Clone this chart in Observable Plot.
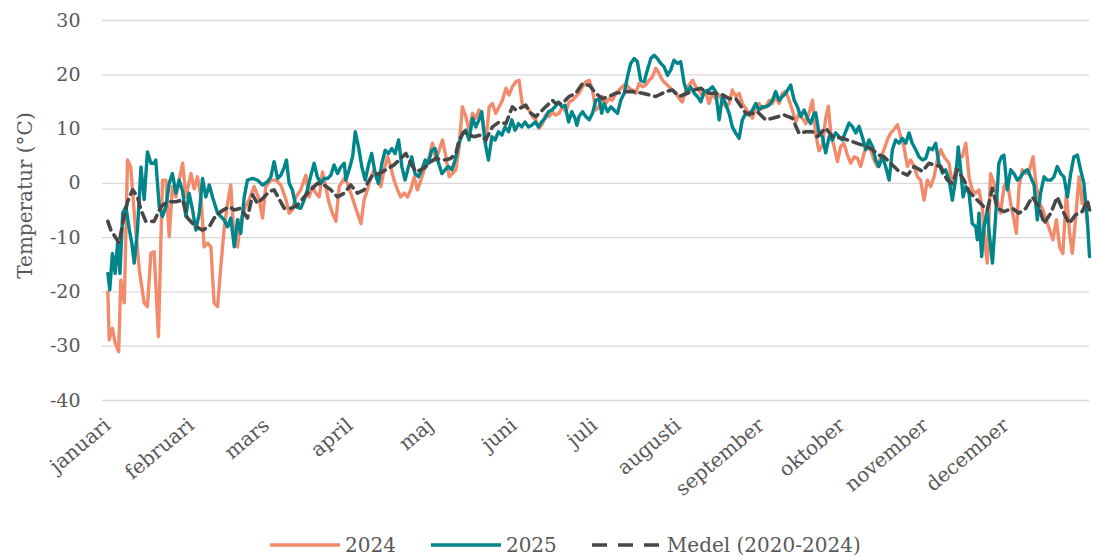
<!DOCTYPE html>
<html>
<head>
<meta charset="utf-8">
<script src="https://cdn.jsdelivr.net/npm/d3@7"></script>
<script src="https://cdn.jsdelivr.net/npm/@observablehq/plot@0.6"></script>
<style>
  html, body { margin: 0; padding: 0; background: #fff; }
  #wrap { width: 1096px; height: 558px; position: relative; font-family: "DejaVu Serif", serif; }
  #legend { position: absolute; left: 0; top: 518px; width: 1096px; height: 40px; display: flex; align-items: center; padding-left: 270px; box-sizing: border-box; font-size: 20px; color: #595959; padding-top: 14px; }
  .item { display: flex; align-items: center; margin-right: 35px; }
  .item svg { margin-right: 5px; }
</style>
</head>
<body>
<div id="wrap">
  <div id="chart"></div>
  <div id="legend"></div>
</div>
<script>
// ---- data (day of year, °C) ----
const months = ["januari","februari","mars","april","maj","juni","juli","augusti","september","oktober","november","december"];
const monthStarts = [0,31,59,90,120,151,181,212,243,273,304,334];
const yTicks = [-40,-30,-20,-10,0,10,20,30];

const days2024 = [0,0.5,1.7,2.7,4.0,4.8,6.1,7.3,8.5,9.8,11.7,13.5,14.7,16.0,17.2,18.8,20.3,21.6,22.8,24.0,25.3,26.5,27.8,29.0,30.9,32.1,33.3,34.6,35.8,37.1,38.3,39.5,40.8,42.0,43.2,44.5,45.7,47.0,48.2,49.4,50.7,52.5,54.4,56.3,57.5,58.7,60.6,62.5,64.3,66.2,67.4,68.6,69.9,71.7,73.6,74.8,76.1,77.3,78.6,79.8,81.0,82.3,83.5,84.8,86.0,87.9,89.1,90.3,91.6,92.8,94.1,95.3,96.5,97.8,99.0,100.2,101.5,102.7,104.0,105.2,106.4,107.7,108.9,110.2,111.4,112.6,113.9,115.1,116.4,117.6,119.5,120.7,122.0,123.2,124.4,125.7,126.9,128.1,129.4,130.6,131.8,133.1,134.3,135.6,136.8,138.0,139.3,140.5,141.8,143.0,144.2,145.5,146.7,148.0,149.2,150.4,151.7,152.9,154.2,155.4,156.6,157.9,159.1,160.3,161.6,162.8,164.1,165.3,166.5,167.8,169.0,170.3,171.5,172.7,174.0,175.2,176.5,177.7,179.0,180.2,181.4,182.7,183.9,185.1,186.4,187.6,188.9,190.1,191.3,192.6,193.8,195.0,196.3,197.5,198.8,200.0,201.2,202.5,203.7,205.0,206.2,207.4,208.7,209.9,211.2,212.4,213.6,214.9,216.1,217.4,218.6,219.8,221.1,222.3,223.5,224.8,226.0,227.3,228.5,229.7,231.0,232.2,233.5,234.7,235.9,237.2,238.4,239.7,240.9,242.1,243.4,244.6,245.9,247.1,248.3,249.6,250.8,252.0,253.3,254.5,255.8,257.0,258.3,259.5,260.7,262.0,263.2,264.4,265.7,266.9,267.9,268.8,270.0,271.3,272.5,273.7,275.0,276.2,277.5,278.7,279.9,281.2,282.4,283.6,284.9,286.1,287.4,288.6,289.8,291.1,292.3,293.6,294.8,296.0,297.3,298.5,299.8,301.0,302.2,303.5,304.7,305.9,307.2,308.4,309.7,310.9,312.8,314.0,315.2,316.5,317.7,319.0,320.2,321.4,322.7,323.9,325.1,326.4,327.0,328.2,329.5,330.7,331.9,333.2,334.4,335.7,336.9,337.8,338.8,340.0,341.3,342.5,344.0,345.2,346.5,347.7,348.9,350.2,351.4,352.7,353.9,355.1,356.4,357.6,358.6,359.8,361.1,362.3,362.9,364.2];
const temp2024 = [-20,-28.8,-26.7,-29.4,-31,-17.8,-22,4.3,3,-5.5,-16,-22,-22.7,-12.9,-12.6,-28.2,0.6,0.6,-9.8,-0.6,-2.5,0.6,3.7,-2.5,1.8,-1,1.2,-2.5,-11.7,-11,-11.7,-22,-22.7,-15.3,-8.6,-3.7,-0.3,-11,-11.7,-6.7,-4.9,-3,-0.6,-3,-6.4,-0.6,0.6,0.6,-0.3,-3,-5.5,-4.9,-2.5,-1.2,1.5,-2.5,-0.6,-1.8,-2.5,2.1,-0.6,-3.7,-5.5,-7,-0.6,0.9,0,-1.8,-3.7,-5.5,-7.4,-3,-1.2,1.2,2.5,0.6,-0.6,2.5,4.9,3,0.6,-1.2,-2.5,-1.8,-2.5,-1.2,1.2,-1.2,0.6,2.5,4.9,7.4,4.3,6.1,8,4.9,1.2,1.8,2.5,6.7,14.1,12.3,9.8,12.9,12,13.5,11.7,7.4,14.1,14.7,12.9,14.1,15.3,17.5,16.3,17.8,18.7,19,14.1,14.1,13.5,12.3,11.7,10.1,11,12.6,12.3,13.2,12.6,12.9,14.1,13.2,15,15.3,16,16.6,17.8,18.7,19,17.2,13.5,14.1,16,14.7,15.6,15.3,16.6,17.2,17.8,18.4,17.5,17.2,16.6,18.4,17.8,18.1,19,19.6,21.2,20.2,19,18.4,17.8,17.2,16.6,15.6,15,17.2,18.1,19,17.8,17.2,16,16.9,14.7,16.6,15.6,16.3,15.3,14.1,14.7,17.2,16,16.6,14.7,13.8,12.9,12,14.1,14.7,13.8,14.1,15.3,14.7,16,14.7,16.6,16.9,15.3,13.5,11.3,12.9,12,11,12.9,15.3,9,6,7,12,14.2,9.3,6.8,4,6.8,7.4,5.2,3.7,4.9,4.6,3.1,5.6,7.4,6.2,4.3,3.1,4.9,6.2,8,9.3,9.9,10.8,8.6,6.8,3.1,4.3,3.1,1.2,0.6,-3.1,0.6,-0.6,1.2,4.3,6.2,4.9,3.7,-0.6,2.5,4.9,4.9,7.4,1.2,-1.2,-1.8,-1.2,-4.3,-12.3,-14.7,1.8,0,-3.1,-5.5,-0.6,0.6,-3.7,-6.7,-9.2,-0.6,2.5,1.8,2.1,4.9,-0.6,-3.7,-4.9,-6.7,-8.6,-10.4,-6.7,-11.7,-12.9,-1.8,-9.2,-12.9,-6.7,1.2,-3.7,-1.2,-7.4];

const days2025 = [0,0.7,1.7,2.7,3.6,4.5,5.5,6.7,8.0,8.9,9.8,11.0,12.3,13.5,14.7,16.0,17.2,17.8,19.1,20.3,21.6,22.8,24.0,25.3,26.5,27.8,29.0,30.2,31.5,32.7,34.0,35.2,36.4,37.7,38.9,40.8,42.0,43.2,44.5,45.7,47.0,48.2,49.4,50.7,51.9,53.8,55.6,57.5,59.4,60.6,61.8,63.1,64.3,65.6,66.4,67.4,68.6,69.9,71.7,73.0,74.2,75.5,76.7,77.9,79.2,80.4,81.7,82.9,84.1,85.4,86.6,87.9,88.5,89.7,91.0,92.0,93.2,94.4,95.7,96.9,98.1,99.4,100.6,101.9,103.1,104.3,105.6,106.8,108.1,109.3,110.5,111.8,113.0,114.2,115.5,116.7,118.0,119.2,120.4,121.7,122.6,124.2,125.4,126.6,127.9,129.1,130.6,131.8,133.1,134.3,135.6,136.8,138.0,139.0,140.3,141.5,142.8,144.0,145.2,146.5,147.7,149.0,150.2,151.4,152.7,153.9,155.1,156.4,157.6,158.9,160.1,161.3,162.6,163.8,165.1,166.3,167.5,168.8,170.0,171.3,172.5,173.7,174.4,175.2,176.5,177.7,179.0,180.2,181.4,182.7,183.6,184.5,185.8,187.0,188.2,189.5,190.7,192.0,193.2,194.4,195.7,196.9,198.1,199.4,200.6,201.9,203.1,204.3,205.6,206.8,208.1,209.3,210.5,211.8,213.0,214.3,215.5,216.7,218.0,219.2,220.5,221.7,223.5,224.8,226.0,227.3,228.5,229.7,231.0,232.2,233.5,234.7,235.9,237.2,238.4,239.7,240.9,242.1,243.4,244.6,245.9,247.1,248.3,249.6,250.8,252.0,253.9,255.2,256.4,257.6,258.9,260.1,261.3,262.6,263.2,264.4,265.7,266.9,268.2,269.4,270.6,271.9,273.1,274.4,275.6,276.8,278.1,279.3,280.5,281.8,283.0,284.3,285.5,286.7,288.0,289.2,290.5,291.7,292.9,294.2,295.4,296.7,297.9,299.1,300.4,301.6,302.9,304.1,305.3,306.6,307.8,309.0,310.3,311.5,312.8,314.0,315.2,316.2,317.1,318.0,319.0,320.2,321.4,322.7,323.3,323.9,324.9,325.8,327.0,327.6,328.9,330.1,331.3,332.3,333.2,334.4,335.7,336.9,338.2,339.4,340.6,341.9,343.1,344.4,345.6,346.8,348.1,349.3,350.6,351.8,353.0,354.3,355.5,356.8,358.0,359.2,360.5,361.7,362.9,364.2,365.0];
const temp2025 = [-16.6,-19.6,-12.9,-16.6,-11,-16.6,-5.5,-4.3,-8.6,-11,-14.7,-8.6,3,-3,5.8,3.7,3.7,4.3,-4.3,-6.1,-4.3,0,1.8,-1.8,0.6,-1.5,-6.1,-1.8,-4.9,-8.6,-5.5,0.9,-2.5,-0.3,-2.5,-5.5,-6.1,-6.7,-8,-6.4,-11.7,-6.7,-9.2,-2.5,0.6,0.9,0.6,-0.3,0.3,1.2,4,0.9,1.5,3,4.3,0,-1.2,-4.3,-4.6,-3,-1.2,1.5,3.7,1.2,0,0.9,0.9,1.5,3.4,1.8,3,3.7,0.6,2.5,4.9,9.5,6.7,3.1,0.6,3.4,5.5,1.8,0,3.7,6.1,5.5,6.4,5.5,8,3.1,0.6,3.1,4.9,1.8,1.2,2.5,4.3,3.7,6.1,6.4,4.3,1.8,2.5,3.1,2.5,4.3,7.4,9.2,9.8,8,12,10.4,11.7,13.2,7.4,4.3,8.6,8,9.5,8.9,10.4,9.5,11.7,9.8,11,10.4,11.3,10.4,10.7,11.3,10.4,11.3,12,13.2,13.5,14.1,15,14.1,14.4,11.3,13.2,12,10.7,12.3,13.2,12.3,11.7,12.9,15.3,15.6,12.9,14.7,13.2,14.1,13.5,12.9,15.3,16.6,19.6,22.1,23,22.4,19,18.7,20.9,23,23.6,23,22.1,21.5,19.9,20.9,22.7,22.1,22.4,18.4,16.6,17.8,16.6,16,15,16.9,17.2,17.8,16.9,11.7,16,14.7,12.9,10.4,9.2,8.3,11.7,12.9,12.6,13.5,14.7,13.5,14.1,14.1,14.4,15.3,16.9,15.3,16,16.6,18.1,15.3,14.1,12.3,13.5,12,11,12.9,13,9.3,8.6,5.6,8.6,8,9.3,8.6,8,9.6,11.1,10.5,9.3,10.5,8.6,6.2,8,6.8,4.3,3.1,4.9,3.1,0.6,6.2,8,7.4,8.3,7.4,9.3,7.4,6.2,4.9,4.3,4.6,6.5,6.2,7.4,3.7,1.9,2.5,0.6,-3.1,0.6,6.7,2.5,-2.5,-0.6,-1.8,-7.4,-8,-10.4,-5.5,-13.5,-8,-4.9,-8.6,-14.7,-6.1,3.7,4.9,5.2,-1.2,2.5,1.8,0.6,1.2,2.1,2.5,1.2,-0.3,-6.7,-1.8,1.2,0.6,0.6,1.2,3.1,1.8,1.2,-2.5,1.8,4.9,5.2,2.5,0,-6.7,-13.5];

const daysMean = [0,1.1,4.2,5.5,7.3,9.2,11.0,12.3,14.1,17.2,19.7,22.2,25.3,27.8,29.6,32.7,35.2,37.7,39.5,42.0,45.1,47.0,49.4,51.9,53.8,55.6,58.1,60.0,61.8,65.6,68.0,70.5,73.0,74.8,77.9,80.4,82.9,85.4,87.9,90.3,92.8,95.3,96.5,98.4,100.9,103.3,106.4,108.9,110.8,112.6,114.5,117.6,120.1,122.0,125.0,127.5,129.4,130.6,132.5,134.3,136.2,138.7,140.5,143.0,145.5,148.0,150.4,151.7,155.4,157.3,159.1,161.0,162.8,165.3,166.5,169.0,171.5,174.0,176.5,177.7,179.0,181.4,183.9,186.4,188.9,192.6,195.0,198.8,201.2,203.7,207.4,209.9,212.4,215.5,218.0,220.5,223.5,226.0,228.5,231.0,233.5,237.2,239.7,241.5,244.6,247.1,251.4,254.5,257.0,259.5,262.0,263.8,266.9,269.4,273.1,276.8,281.8,284.3,286.7,288.6,292.3,294.2,297.3,299.8,302.9,305.3,307.2,309.7,312.1,314.0,315.9,318.3,320.2,322.7,325.1,327.0,328.9,330.7,333.2,336.3,338.8,341.3,343.7,346.2,348.1,350.6,353.0,355.5,357.4,359.8,362.3,364.2,365.0];
const tempMean = [-7,-8.6,-11,-7.4,-3.4,-1.2,-2.5,-4.9,-7,-7,-4.3,-3.4,-3.4,-3,-6.4,-8,-8.6,-8,-6.4,-5.2,-4.3,-4.9,-4.6,-6.4,-2.1,-3.7,-2.5,-1.5,-1.2,-4.6,-4.6,-4,-2.5,-1.5,0,-0.3,-1.2,-2.5,-1.8,-0.3,-1.8,-1.2,0,1.5,1.8,2.5,3.4,4.6,5.5,3.7,2.1,2.8,4,4.6,4.3,4.6,5.5,8,9.5,8.9,8.6,8.9,8,10.4,11.3,11,14.1,13.5,14.4,12.9,12.3,13.2,14.1,15.3,14.7,14.7,16,16.6,18.4,18.1,18.1,16.6,15.6,16,16.6,16.9,16.9,16.6,16.3,16,16.9,17.2,16,16.6,17.2,17.5,16.6,16.6,16.3,15.6,15.6,12.9,12.9,13.2,11.7,12,12.6,12,9.2,9.5,9.5,8.6,10.2,8.6,8.3,7.7,6.8,6.2,5.2,4.9,3.1,2.2,1.5,3.1,2.2,3.7,3.4,3.1,0.6,0,2.5,0.6,-1.5,-2.8,-4,-4.9,-0.9,-4.6,-5.2,-4.6,-5.5,-4.6,-2.5,-4.3,-7.4,-5.5,-2.5,-5.5,-7.4,-5.8,-5.2,-3.1,-4.9];

const seriesNames = ["2024", "2025", "Medel (2020-2024)"];
const seriesColors = ["#F28B6C", "#00868A", "#474747"];

// ---- build tables ----
const toRows = (days, temps) => days.map((d, i) => ({day: d, t: temps[i]}));
const rows2024 = toRows(days2024, temp2024);
const rows2025 = toRows(days2025, temp2025);
const rowsMean = toRows(daysMean, tempMean);
const monthName = new Map(monthStarts.map((d, i) => [d, months[i]]));

const chart = Plot.plot({
  width: 1096,
  height: 518,
  marginLeft: 102,
  marginRight: 7,
  marginTop: 20,
  marginBottom: 118,
  style: {fontFamily: "'DejaVu Serif', serif", fontSize: "19px", color: "#595959", background: "#fff", overflow: "visible"},
  x: {domain: [-2, 365]},
  y: {domain: [-40, 30]},
  marks: [
    Plot.ruleY(yTicks, {stroke: "#d9d9d9", strokeWidth: 1.3}),
    Plot.axisY({ticks: yTicks, tickFormat: d => String(d), tickSize: 0, tickPadding: 22, label: null, fontSize: 19}),
    Plot.axisX({ticks: monthStarts, tickFormat: d => monthName.get(d), tickRotate: -40, tickSize: 0, tickPadding: 22, label: null, fontSize: 20}),
    Plot.text(["Temperatur (°C)"], {frameAnchor: "left", textAnchor: "middle", rotate: -90, dx: -77, dy: -15, fontSize: 20, fill: "#595959"}),
    Plot.line(rows2024, {x: "day", y: "t", stroke: seriesColors[0], strokeWidth: 3.4, strokeLinejoin: "round"}),
    Plot.line(rows2025, {x: "day", y: "t", stroke: seriesColors[1], strokeWidth: 3.4, strokeLinejoin: "round"}),
    Plot.line(rowsMean, {x: "day", y: "t", stroke: seriesColors[2], strokeWidth: 3.6, strokeDasharray: "9,6"})
  ]
});
document.getElementById("chart").append(chart);

// ---- legend ----
const legend = document.getElementById("legend");
seriesNames.forEach((name, i) => {
  const item = document.createElement("div");
  item.className = "item";
  const dash = i === 2 ? ' stroke-dasharray="15,11"' : '';
  item.innerHTML = `<svg width="70" height="8"><line x1="0" y1="4" x2="70" y2="4" stroke="${seriesColors[i]}" stroke-width="3.5"${dash}/></svg><span>${name}</span>`;
  legend.append(item);
});
</script>
</body>
</html>
